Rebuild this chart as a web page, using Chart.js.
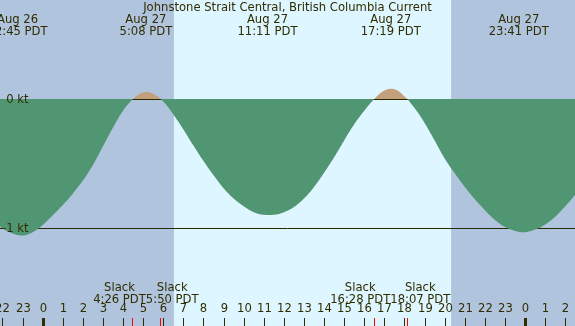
<!DOCTYPE html>
<html>
<head>
<meta charset="utf-8">
<script src="https://cdn.jsdelivr.net/npm/chart.js@4"></script>
<style>
  html, body { margin: 0; padding: 0; background: #b0c4de; }
  canvas { display: block; }
</style>
</head>
<body>
<canvas id="myChart" width="575" height="326"></canvas>
<script>
// hours counted from Aug 27 00:00 PDT
const hours = [-2.5, -2, -1.5, -1, -0.5, 0, 0.5, 1, 1.5, 2, 2.5, 3, 3.5, 4, 4.5, 5, 5.5, 6, 6.5, 7,
  7.5, 8, 8.5, 9, 9.5, 10, 10.5, 11, 11.5, 12, 12.5, 13, 13.5, 14, 14.5, 15, 15.5, 16, 16.5, 17,
  17.5, 18, 18.5, 19, 19.5, 20, 20.5, 21, 21.5, 22, 22.5, 23, 23.5, 24, 24.5, 25, 25.5, 26, 26.5, 27]
const knots = [-0.93, -1.00, -1.04, -1.055, -1.03, -0.975, -0.90, -0.82, -0.73, -0.63, -0.51, -0.365, -0.22, -0.09, 0.00, 0.05, 0.04, -0.02, -0.12, -0.235,
  -0.36, -0.48, -0.59, -0.69, -0.77, -0.83, -0.875, -0.895, -0.895, -0.875, -0.835, -0.77, -0.68, -0.57, -0.45, -0.32, -0.195, -0.09, 0.00, 0.065,
  0.075, 0.02, -0.07, -0.185, -0.32, -0.46, -0.575, -0.68, -0.775, -0.86, -0.935, -0.99, -1.02, -1.03, -1.01, -0.97, -0.91, -0.83, -0.74, -0.64]

const sunrise = 6.53
const sunset = 20.32

const eventHours = [-1.25, 5.133, 11.183, 17.317, 23.683]
const eventDates = ['Aug 26', 'Aug 27', 'Aug 27', 'Aug 27', 'Aug 27']
const eventTimes = ['22:45 PDT', '5:08 PDT', '11:11 PDT', '17:19 PDT', '23:41 PDT']

const slackHours = [4.433, 5.833, 16.467, 18.117]
const slackTimes = ['4:26 PDT', '5:50 PDT', '16:28 PDT', '18:07 PDT']

const tickHours = [-2, -1, 0, 1, 2, 3, 4, 5, 6, 7, 8, 9, 10, 11, 12, 13, 14, 15, 16, 17, 18, 19, 20, 21, 22, 23, 24, 25, 26]
const tickLabels = ['22', '23', '0', '1', '2', '3', '4', '5', '6', '7', '8', '9', '10', '11', '12', '13', '14', '15', '16', '17', '18', '19', '20', '21', '22', '23', '0', '1', '2']
const midnights = [0, 24]

const levels = [0, -1]
const levelLabels = ['0 kt', '-1 kt']

const title = 'Johnstone Strait Central, British Columbia Current'

const textColor = '#302c00'
const font = '11.6px "DejaVu Sans"'

// push apart labels of one row so they don't overlap
function spread(ctx, xs, texts) {
  let c = xs.slice()
  let w = texts.map(t => ctx.measureText(t).width)
  for (let i = 0; i < c.length - 1; i++) {
    let over = (c[i] + w[i] / 2) - (c[i + 1] - w[i + 1] / 2)
    if (over > 0) {
      c[i] -= over / 2
      c[i + 1] += over / 2
    }
  }
  return c
}

const decor = {
  id: 'decor',
  beforeDraw(chart) {
    const ctx = chart.ctx
    const x = chart.scales.x, y = chart.scales.y
    ctx.save()
    ctx.fillStyle = '#b0c4de'
    ctx.fillRect(0, 0, chart.width, chart.height)
    let x1 = x.getPixelForValue(sunrise), x2 = x.getPixelForValue(sunset)
    ctx.fillStyle = '#def6ff'
    ctx.fillRect(x1, 0, x2 - x1, chart.height)
    ctx.strokeStyle = '#2b2800'
    ctx.lineWidth = 1
    levels.forEach(v => {
      let py = Math.round(y.getPixelForValue(v)) + 0.5
      ctx.beginPath()
      ctx.moveTo(0, py)
      ctx.lineTo(chart.width, py)
      ctx.stroke()
    })
    ctx.restore()
  },
  afterDatasetsDraw(chart) {
    const ctx = chart.ctx
    const x = chart.scales.x, y = chart.scales.y
    const H = chart.height
    ctx.save()
    ctx.font = font
    ctx.fillStyle = textColor
    ctx.textBaseline = 'middle'

    // level labels
    ctx.textAlign = 'right'
    levels.forEach((v, i) => ctx.fillText(levelLabels[i], 28.5, y.getPixelForValue(v) + 0.5))

    // title and extremes
    ctx.textAlign = 'center'
    ctx.fillText(title, chart.width / 2, 7.5)
    eventHours.forEach((h, i) => {
      let px = x.getPixelForValue(h)
      ctx.fillText(eventDates[i], px, 20)
      ctx.fillText(eventTimes[i], px, 31.5)
    })

    // slack labels
    let sx = slackHours.map(h => x.getPixelForValue(h))
    let cx = spread(ctx, sx, slackTimes)
    cx.forEach((px, i) => {
      ctx.fillText('Slack', px, 288)
      ctx.fillText(slackTimes[i], px, 300)
    })

    // hour ticks
    ctx.strokeStyle = textColor
    tickHours.forEach((h, i) => {
      let px = Math.round(x.getPixelForValue(h)) + 0.5
      ctx.fillText(tickLabels[i], px, 308.5)
      ctx.lineWidth = midnights.includes(h) ? 3 : 1
      ctx.beginPath()
      ctx.moveTo(px, 318)
      ctx.lineTo(px, H)
      ctx.stroke()
    })
    ctx.strokeStyle = '#ff0000'
    ctx.lineWidth = 1
    sx.forEach(px => {
      px = Math.round(px) + 0.5
      ctx.beginPath()
      ctx.moveTo(px, 318)
      ctx.lineTo(px, H)
      ctx.stroke()
    })
    ctx.restore()
  }
}

let ctx = document.getElementById('myChart')
new Chart(ctx, {
  type: 'line',
  data: {
    labels: hours,
    datasets: [{
      data: hours.map((h, i) => ({ x: h, y: knots[i] })),
      borderWidth: 0,
      borderColor: 'rgba(0,0,0,0)',
      pointRadius: 0,
      tension: 0.4,
      fill: { target: 'origin', above: '#c1a07b', below: '#519672' }
    }]
  },
  options: {
    responsive: false,
    animation: false,
    devicePixelRatio: 1,
    layout: { padding: 0 },
    plugins: { legend: { display: false }, tooltip: { enabled: false } },
    scales: {
      x: { type: 'linear', min: -2.124, max: 26.483, display: false },
      y: { min: -1.7556, max: 0.7657, display: false }
    }
  },
  plugins: [decor]
})
</script>
</body>
</html>
